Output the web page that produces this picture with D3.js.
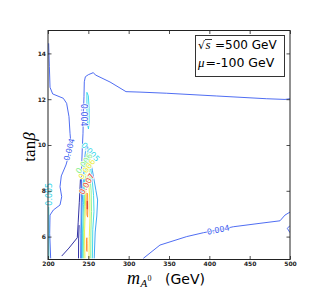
<!DOCTYPE html>
<html>
<head>
<meta charset="utf-8">
<script src="https://cdn.jsdelivr.net/npm/d3@7"></script>
<style>
  body { margin: 0; background: #fff; }
  svg { display: block; }
</style>
</head>
<body>
<div id="chart"></div>
<script>
// axis ticks
const xTicks = [200, 250, 300, 350, 400, 450, 500];
const yTicks = [6, 8, 10, 12, 14];

// contour colours per level (jet-like)
const levelColors = {
  "0.003": "#1c1c9a",
  "0.004": "#3b5cf0",
  "0.0045": "#2a9cf2",
  "0.005": "#2fd6ea",
  "0.0055": "#86f08a",
  "0.006": "#ecec3c",
  "0.007": "#ff8a2a",
  "0.0075": "#e0442a"
};

// contour lines as [mA, tanBeta]
const c003Diag = [[217, 5.15], [226, 5.5], [236.3, 5.95], [237.4, 6.6], [238.8, 7.5], [240.2, 8.5]];
const c003Edge = [[237.8, 5.05], [238, 5.9], [238.6, 6.5]];
const c004Left = [[200.8, 14.44], [201.7, 13.42], [202.5, 12.52], [205.8, 12.23], [219, 12.04], [223.1, 11.82],
  [226, 11.24], [227.3, 10.51], [227.8, 10.3], [226.9, 9.78], [224.5, 9.4], [222.3, 9.13], [216.5, 8.65],
  [214.9, 8.18], [217, 7.74], [214.9, 7.38], [206.6, 7.16], [202.5, 6.94], [202.1, 6.14], [203.3, 5.05]];
const c004Mid = [[240.5, 5.05], [240.9, 6.14], [241.3, 7.6], [241.7, 9.05], [242.6, 9.93], [243.4, 10.51],
  [243.8, 11.31], [244.2, 11.7], [244.6, 12.11], [245, 12.76], [246.3, 12.98], [250, 13.07], [256.2, 13.16],
  [258.7, 13.06], [276.9, 12.75], [296.7, 12.33], [314, 12.31], [347.1, 12.26], [409.1, 12.14],
  [471.1, 12.02], [493.8, 11.99], [500, 12.02]];
const c004Right = [[318.2, 5.05], [338.8, 5.63], [371.9, 6.0], [392.6, 6.17], [411.1, 6.29], [429.7, 6.43],
  [462.8, 6.58], [487.6, 6.69], [493.8, 6.94], [500, 7.07]];
const c004Corner = [[500, 6.48], [496.7, 6.36], [500, 6.17]];
const c0045Outer = [[241.5, 5.05], [241.2, 6.2], [242.5, 7.5], [244, 8.6], [245.5, 9.4], [247, 9.9],
  [249, 9.95], [251, 9.6], [255, 8.9], [259.5, 8.0], [261.5, 7.6], [260.5, 6.9], [258.5, 6.2], [257.3, 5.05]];
const c005Top = [[248.2, 12.3], [250, 12.15], [251, 11.6], [251, 11.0], [250.2, 10.7], [249, 10.9],
  [248.3, 11.5], [248.2, 12.3]];
const c005Inner = [[243, 5.05], [242.8, 6.2], [244, 7.4], [245.3, 8.5], [246.8, 9.3], [249, 9.6],
  [251.5, 9.3], [254.5, 8.6], [256.5, 7.8], [257, 7.1], [255.5, 6.3], [255, 5.05]];
const c005Edge = [[201, 5.05], [201.2, 6.2], [200.9, 7.3]];
const c0055 = [[244.3, 5.05], [243.8, 6.2], [245, 7.3], [246, 8.3], [247.5, 9.0], [249.5, 9.2],
  [251.5, 8.8], [253.5, 8.0], [254, 7.1], [253.2, 6.2], [253, 5.05]];
const c006 = [[245.8, 5.05], [245.3, 6.2], [246.3, 7.3], [247.2, 8.2], [248.8, 8.7], [250.5, 8.4],
  [251.8, 7.6], [252, 6.8], [251.2, 6.0], [250.8, 5.05]];
const c007Upper = [[248.3, 6.95], [248.1, 7.5], [248.4, 7.9], [249.1, 7.85], [249.4, 7.3], [249.1, 6.85], [248.3, 6.95]];
const c007Lower = [[247.8, 5.4], [247.7, 5.85], [248.2, 5.95], [248.5, 5.7], [248.4, 5.35], [247.8, 5.4]];
const c0075 = [[248.6, 7.2], [248.6, 7.55], [248.9, 7.55], [248.9, 7.2], [248.6, 7.2]];

const contours = [
  { level: "0.003", pts: c003Diag }, { level: "0.003", pts: c003Edge },
  { level: "0.004", pts: c004Left }, { level: "0.004", pts: c004Mid },
  { level: "0.004", pts: c004Right }, { level: "0.004", pts: c004Corner },
  { level: "0.0045", pts: c0045Outer }, { level: "0.005", pts: c005Top },
  { level: "0.005", pts: c005Inner }, { level: "0.005", pts: c005Edge },
  { level: "0.0055", pts: c0055 }, { level: "0.006", pts: c006 },
  { level: "0.007", pts: c007Upper }, { level: "0.007", pts: c007Lower },
  { level: "0.0075", pts: c0075 }
];

// inline contour labels: text, position, angle
const labelText = ["0.004", "0.004", "0.004", "0.005", "0.005", "0.006", "0.006", "0.007"];
const labelLevel = ["0.004", "0.004", "0.004", "0.005", "0.005", "0.0055", "0.006", "0.0075"];
const labelPos = [[226.3, 9.8], [243.8, 11.3], [411.1, 6.3], [201.2, 7.85], [252.7, 9.7], [244.8, 9.2], [248, 8.95], [248, 8.3]];
const labelAngle = [-75, 90, -11, -90, 47, -55, -55, -60];

const W = 323, H = 306;
const margin = { top: 30.5, right: 33, bottom: 46.5, left: 48 };

const svg = d3.select("#chart").append("svg")
  .attr("width", W).attr("height", H);

const x = d3.scaleLinear().domain([200, 500]).range([margin.left, W - margin.right]);
const y = d3.scaleLinear().domain([5, 15]).range([H - margin.bottom, margin.top]);

svg.append("defs").append("clipPath").attr("id", "plotclip")
  .append("rect")
  .attr("x", x(200)).attr("y", y(15))
  .attr("width", x(500) - x(200)).attr("height", y(5) - y(15));

const line = d3.line().x(d => x(d[0])).y(d => y(d[1]));

const plot = svg.append("g").attr("clip-path", "url(#plotclip)");

plot.selectAll("path.contour")
  .data(contours)
  .join("path")
  .attr("class", "contour")
  .attr("d", d => line(d.pts))
  .attr("fill", "none")
  .attr("stroke", d => levelColors[d.level])
  .attr("stroke-width", 0.9);

// contour labels (white halo breaks the line like matplotlib clabel)
svg.append("g").selectAll("text")
  .data(labelText)
  .join("text")
  .attr("transform", (d, i) => `translate(${x(labelPos[i][0])},${y(labelPos[i][1])}) rotate(${labelAngle[i]})`)
  .attr("text-anchor", "middle")
  .attr("dy", "0.35em")
  .attr("font-family", "DejaVu Sans")
  .attr("font-size", "8px")
  .attr("fill", (d, i) => levelColors[labelLevel[i]])
  .attr("stroke", "#fff")
  .attr("stroke-width", 1.4)
  .attr("paint-order", "stroke")
  .text(d => d);

// axes: inward ticks on all four sides
function styleAxis(g) {
  g.select(".domain").remove();
  g.selectAll(".tick line").attr("stroke", "#222").attr("stroke-width", 0.8);
  g.selectAll(".tick text").attr("font-family", "DejaVu Sans").attr("font-size", "6px")
    .attr("fill", "#222").attr("font-weight", "bold");
}

svg.append("g")
  .attr("transform", `translate(0,${y(5)})`)
  .call(d3.axisBottom(x).tickValues(xTicks).tickSizeInner(-3.5).tickSizeOuter(0).tickPadding(2.5).tickFormat(d3.format("d")))
  .call(styleAxis);
svg.append("g")
  .attr("transform", `translate(0,${y(15)})`)
  .call(d3.axisTop(x).tickValues(xTicks).tickSizeInner(-3.5).tickSizeOuter(0).tickFormat(""))
  .call(styleAxis);
svg.append("g")
  .attr("transform", `translate(${x(200)},0)`)
  .call(d3.axisLeft(y).tickValues(yTicks).tickSizeInner(-3.5).tickSizeOuter(0).tickPadding(2).tickFormat(d3.format("d")))
  .call(styleAxis);
svg.append("g")
  .attr("transform", `translate(${x(500)},0)`)
  .call(d3.axisRight(y).tickValues(yTicks).tickSizeInner(-3.5).tickSizeOuter(0).tickFormat(""))
  .call(styleAxis);

// frame
svg.append("rect")
  .attr("x", x(200)).attr("y", y(15))
  .attr("width", x(500) - x(200)).attr("height", y(5) - y(15))
  .attr("fill", "none").attr("stroke", "#222").attr("stroke-width", 1);

// x label: m_{A^0} (GeV)
const xl = svg.append("text").attr("y", 284).attr("fill", "#000");
xl.append("tspan").attr("x", 127).attr("font-family", "Liberation Serif").attr("font-style", "italic").attr("font-size", "18px").text("m");
xl.append("tspan").attr("x", 140.5).attr("dy", 3).attr("font-family", "Liberation Serif").attr("font-style", "italic").attr("font-size", "11px").text("A");
xl.append("tspan").attr("x", 147.5).attr("dy", -6).attr("font-family", "Liberation Serif").attr("font-size", "8px").text("0");
xl.append("tspan").attr("x", 165).attr("dy", 3).attr("font-family", "DejaVu Sans").attr("font-size", "14px").text("(GeV)");

// y label: tan beta
const yl = svg.append("text")
  .attr("transform", `translate(35,${(y(5) + y(15)) / 2 + 2}) rotate(-90)`)
  .attr("text-anchor", "middle")
  .attr("font-family", "Liberation Serif").attr("font-size", "17px").attr("fill", "#000");
yl.append("tspan").text("tan");
yl.append("tspan").attr("font-style", "italic").text("β");

// legend box
const lg = svg.append("g");
lg.append("rect").attr("x", 195.5).attr("y", 35.5).attr("width", 89).attr("height", 41)
  .attr("fill", "#fff").attr("stroke", "#333").attr("stroke-width", 1);
const l1 = lg.append("text").attr("y", 49).attr("fill", "#000");
l1.append("tspan").attr("x", 198).attr("font-family", "DejaVu Serif").attr("font-size", "11px").text("√");
l1.append("tspan").attr("x", 205.5).attr("font-family", "Liberation Serif").attr("font-style", "italic").attr("font-size", "13px").text("s");
l1.append("tspan").attr("x", 215).attr("font-family", "DejaVu Sans").attr("font-size", "12px").text("=");
l1.append("tspan").attr("x", 225).attr("font-family", "DejaVu Sans").attr("font-size", "12px").text("500 GeV");
lg.append("line").attr("x1", 205).attr("x2", 212).attr("y1", 39.5).attr("y2", 39.5)
  .attr("stroke", "#000").attr("stroke-width", 0.8);
const l2 = lg.append("text").attr("y", 66.5).attr("fill", "#000");
l2.append("tspan").attr("x", 198).attr("font-family", "Liberation Serif").attr("font-style", "italic").attr("font-size", "13px").text("μ");
l2.append("tspan").attr("x", 205.5).attr("font-family", "DejaVu Sans").attr("font-size", "12.5px").text("=-100 GeV");
</script>
</body>
</html>
